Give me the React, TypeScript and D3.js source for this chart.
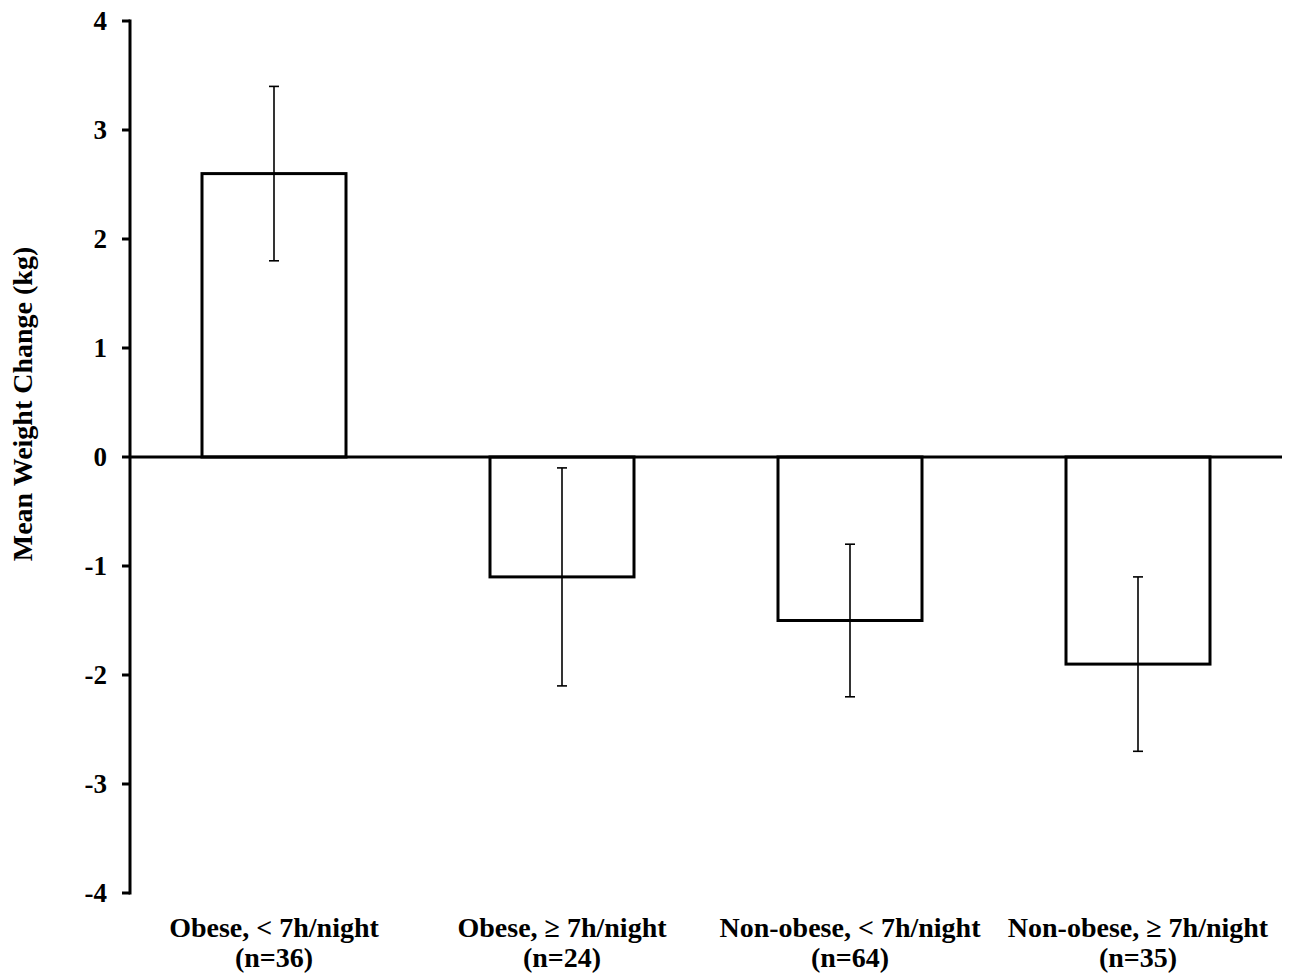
import * as d3 from "d3";

const categories = ["Obese, < 7h/night", "Obese, \u2265 7h/night", "Non-obese, < 7h/night", "Non-obese, \u2265 7h/night"];
const sampleSizes = ["(n=36)", "(n=24)", "(n=64)", "(n=35)"];
const means = [2.6, -1.1, -1.5, -1.9];
const errLow = [1.8, -2.1, -2.2, -2.7];
const errHigh = [3.4, -0.1, -0.8, -1.1];
const yTicks = [-4, -3, -2, -1, 0, 1, 2, 3, 4];

const W = 1290;
const H = 975;
const font = "'Liberation Serif', 'Times New Roman', serif";

export default function App() {
  const x = d3.scaleBand<string>()
    .domain(categories)
    .range([130, 1282])
    .paddingInner(0.5)
    .paddingOuter(0.25);

  const y = d3.scaleLinear().domain([-4, 4]).range([893, 21]);
  const bw = x.bandwidth();

  return (
    <svg width={W} height={H} style={{ position: "absolute", left: 0, top: 0, background: "#fff" }}>
      <rect width={W} height={H} fill="#fff" />

      {/* bars */}
      {categories.map((c, i) => (
        <rect
          key={c}
          x={x(c)!}
          y={Math.min(y(means[i]), y(0))}
          width={bw}
          height={Math.abs(y(means[i]) - y(0))}
          fill="#fff"
          stroke="#000"
          strokeWidth={3}
        />
      ))}

      {/* error bars */}
      {categories.map((c, i) => {
        const cx = x(c)! + bw / 2;
        return (
          <g key={"e" + c} stroke="#000" strokeWidth={1.6}>
            <line x1={cx} x2={cx} y1={y(errLow[i])} y2={y(errHigh[i])} />
            <line x1={cx - 5} x2={cx + 5} y1={y(errLow[i])} y2={y(errLow[i])} />
            <line x1={cx - 5} x2={cx + 5} y1={y(errHigh[i])} y2={y(errHigh[i])} />
          </g>
        );
      })}

      {/* zero line */}
      <line x1={130} x2={1282} y1={y(0)} y2={y(0)} stroke="#000" strokeWidth={3} />

      {/* y axis */}
      <line x1={130} x2={130} y1={y(4) - 1.5} y2={y(-4) + 1.5} stroke="#000" strokeWidth={3} />
      {yTicks.map((t) => (
        <g key={t}>
          <line x1={122} x2={130} y1={y(t)} y2={y(t)} stroke="#000" strokeWidth={3} />
          <text
            x={107}
            y={y(t)}
            dy="0.35em"
            textAnchor="end"
            fontFamily={font}
            fontWeight="bold"
            fontSize={27}
          >
            {t}
          </text>
        </g>
      ))}

      {/* category labels */}
      {categories.map((c, i) => {
        const cx = x(c)! + bw / 2;
        return (
          <text key={"l" + c} textAnchor="middle" fontFamily={font} fontWeight="bold" fontSize={28}>
            <tspan x={cx} y={937}>{c}</tspan>
            <tspan x={cx} y={967}>{sampleSizes[i]}</tspan>
          </text>
        );
      })}

      {/* y axis title */}
      <text
        transform="translate(32,404) rotate(-90)"
        textAnchor="middle"
        fontFamily={font}
        fontWeight="bold"
        fontSize={28}
      >
        Mean Weight Change (kg)
      </text>
    </svg>
  );
}
